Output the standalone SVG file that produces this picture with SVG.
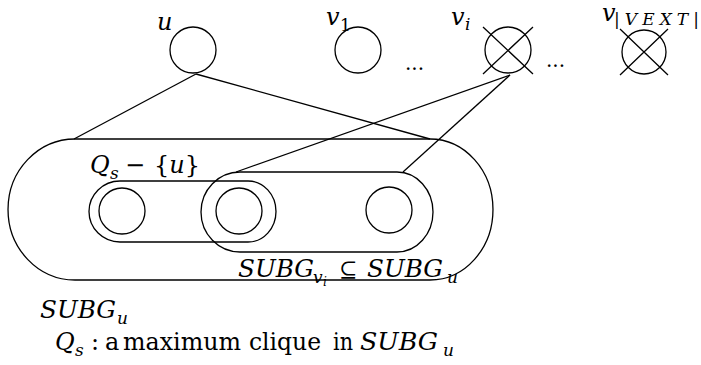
<svg xmlns="http://www.w3.org/2000/svg" width="701" height="365" viewBox="0 0 701 365" font-family="DejaVu Serif, Liberation Serif, serif" font-size="24">
<style>
.s{fill:none;stroke:#000;stroke-width:1.3}
.i{font-style:italic}
.sb{font-size:17px}
.ss{font-size:12px}
</style>
<rect width="701" height="365" fill="#fff"/>
<g id="connectors" class="s">
<line x1="196" y1="74" x2="74" y2="139"/>
<line x1="196" y1="74" x2="430" y2="139"/>
<line x1="510" y1="75" x2="236" y2="172"/>
<line x1="510" y1="75" x2="403" y2="172"/>
</g>
<g id="node-u">
<circle class="s" cx="193" cy="50" r="23"/>
<text class="i" x="157" y="30">u</text>
</g>
<g id="node-v1">
<circle class="s" cx="358" cy="50" r="23"/>
<text class="i" x="326" y="25">v</text><text class="sb" x="340" y="31">1</text>
</g>
<g id="dots1"><text x="405" y="70" font-size="20">...</text></g>
<g id="node-vi">
<circle class="s" cx="508" cy="50" r="23"/>
<path class="s" d="M483,27 L533,74 M533,27 L483,74"/>
<text class="i" x="451" y="25">v</text><text class="i sb" x="465" y="30">i</text>
</g>
<g id="dots2"><text x="546" y="67" font-size="20">...</text></g>
<g id="node-vVEXT">
<circle class="s" cx="644" cy="52" r="22"/>
<path class="s" d="M620,29 L668,75 M668,29 L620,75"/>
<text class="i" x="602" y="21">v</text><text class="i sb" x="614" y="25" textLength="85" lengthAdjust="spacing">|VEXT|</text>
</g>
<g id="SUBG_u">
<path class="s" d="M75,139 H430 A63,70.5 0 0 1 430,280 H75 A67,70.5 0 0 1 75,139 Z"/>
<text class="i" x="40" y="318" textLength="76" lengthAdjust="spacingAndGlyphs">SUBG</text><text class="i sb" x="117" y="324">u</text>
</g>
<g id="Qs">
<path class="s" d="M120,181 H248 A28,30.5 0 0 1 248,242 H120 A31,30.5 0 0 1 120,181 Z"/>
<circle class="s" cx="122" cy="211" r="23"/>
<text class="i" x="90" y="173">Q</text><text class="i sb" x="110" y="179">s</text>
<text x="125" y="173">−</text>
<text x="154" y="173">{<tspan font-style="italic">u</tspan>}</text>
</g>
<g id="SUBG_vi">
<path class="s" d="M240,172 H397 A36,40 0 0 1 397,252 H240 A39,40 0 0 1 240,172 Z"/>
<circle class="s" cx="239" cy="211" r="23"/>
<circle class="s" cx="389" cy="210" r="23"/>
<text class="i" x="238" y="277" textLength="76" lengthAdjust="spacingAndGlyphs">SUBG</text>
<text class="i sb" x="313" y="283">v</text><text class="i ss" x="323" y="286">i</text>
<text x="339" y="277" font-size="22">⊆</text>
<text class="i" x="367" y="277" textLength="76" lengthAdjust="spacingAndGlyphs">SUBG</text><text class="i sb" x="447" y="283">u</text>
</g>
<g id="legend">
<text class="i" x="55" y="350">Q</text><text class="i sb" x="75" y="356">s</text>
<text x="91" y="350">:</text>
<text x="105" y="350">a</text>
<text x="123" y="350" textLength="118" lengthAdjust="spacingAndGlyphs">maximum</text>
<text x="249" y="350" textLength="72" lengthAdjust="spacingAndGlyphs">clique</text>
<text x="333" y="350" textLength="20" lengthAdjust="spacingAndGlyphs">in</text>
<text class="i" x="360" y="350" textLength="78" lengthAdjust="spacingAndGlyphs">SUBG</text><text class="i sb" x="443" y="356">u</text>
</g>
</svg>
